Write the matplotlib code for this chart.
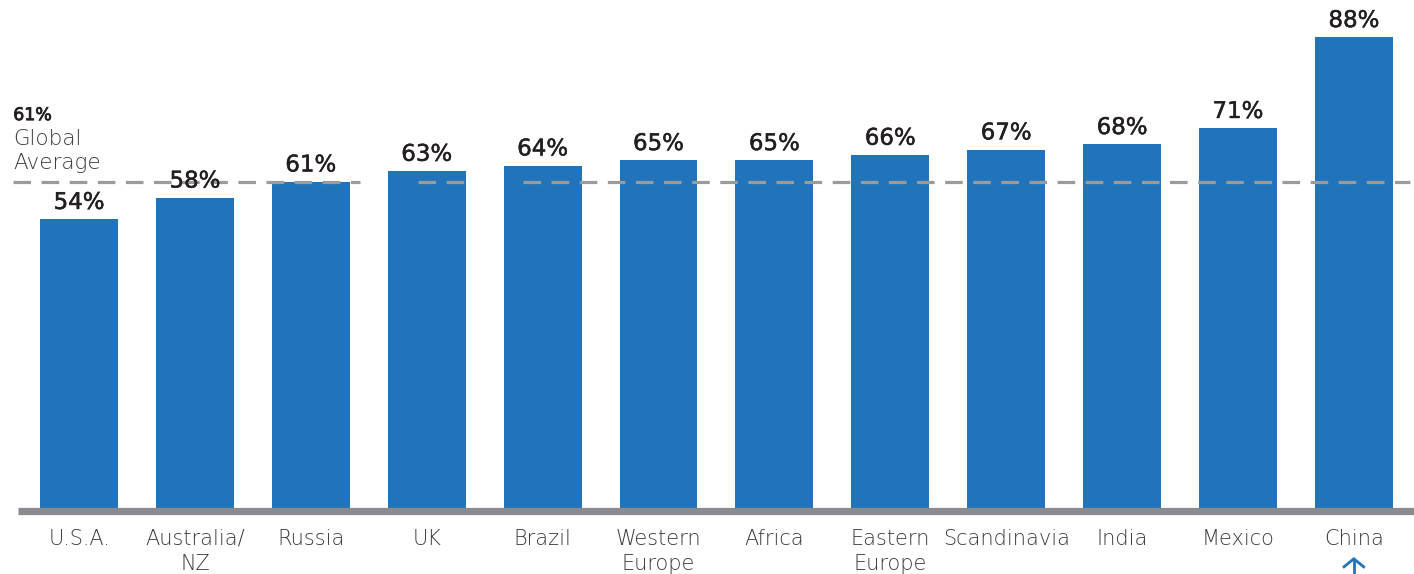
import matplotlib
matplotlib.use("Agg")
import matplotlib.pyplot as plt
import matplotlib.patheffects as pe

categories = ["U.S.A.", "Australia/\nNZ", "Russia", "UK", "Brazil", "Western\nEurope",
              "Africa", "Eastern\nEurope", "Scandinavia", "India", "Mexico", "China"]
values = [54, 58, 61, 63, 64, 65, 65, 66, 67, 68, 71, 88]
global_avg = 61

BAR_COLOR = "#2274BA"
TEXT_DARK = "#231F20"
CAT_COLOR = "#3A3A3C"
AVG_COLOR = "#9B9B9B"
BASE_COLOR = "#8A8A8F"

plt.rcParams["font.family"] = ["DejaVu Sans"]

fig = plt.figure(figsize=(14.14, 5.74), dpi=100)
ax = fig.add_axes([0, 0, 1, 1])
ax.set_xlim(-0.682, 11.519)
ax.set_ylim(-12.34, 94.95)
ax.axis("off")

x = list(range(len(categories)))
ax.bar(x, values, width=0.673, color=BAR_COLOR, zorder=2)

# baseline
ax.plot([-0.526, 11.519], [-0.65, -0.65], color=BASE_COLOR, lw=5.2,
        solid_capstyle="butt", zorder=3)

# global average dashed reference, broken in two places
avg_segments = [(-0.569, 2.424), (2.925, 3.348), (3.831, 11.484)]
for x0, x1 in avg_segments:
    ax.plot([x0, x1], [global_avg, global_avg], color=AVG_COLOR, lw=2.3,
            dashes=(5.5, 3.3), dash_capstyle="butt", zorder=4)

medium = [pe.withStroke(linewidth=0.35, foreground=TEXT_DARK)]

# value labels
for xi, v in zip(x, values):
    ax.text(xi, v + 1.9, f"{v}%", ha="center", va="baseline", fontsize=16.5,
            color=TEXT_DARK, zorder=5, path_effects=medium)

# category labels
for xi, c in zip(x, categories):
    ax.text(xi, -3.9, c, ha="center", va="top", fontsize=15, color=CAT_COLOR,
            fontweight="light", linespacing=1.3)

# global average annotation
ax.text(-0.568, 72.5, f"{global_avg}%", ha="left", va="baseline", fontsize=12.5,
        color=TEXT_DARK, path_effects=[pe.withStroke(linewidth=0.6, foreground=TEXT_DARK)])
ax.text(-0.568, 67.9, "Global", ha="left", va="baseline", fontsize=15.5,
        fontweight="light", color=CAT_COLOR)
ax.text(-0.568, 63.3, "Average", ha="left", va="baseline", fontsize=15.5,
        fontweight="light", color=CAT_COLOR)

# small upward arrow under the last category
cx = x[-1]
ax.plot([cx, cx], [-12.34, -9.6], color=BAR_COLOR, lw=2.0, solid_capstyle="butt", zorder=5)
ax.plot([cx - 0.085, cx, cx + 0.085], [-11.0, -9.5, -11.0], color=BAR_COLOR, lw=2.0,
        solid_joinstyle="miter", zorder=5)

fig.savefig("out.png", dpi=100)
